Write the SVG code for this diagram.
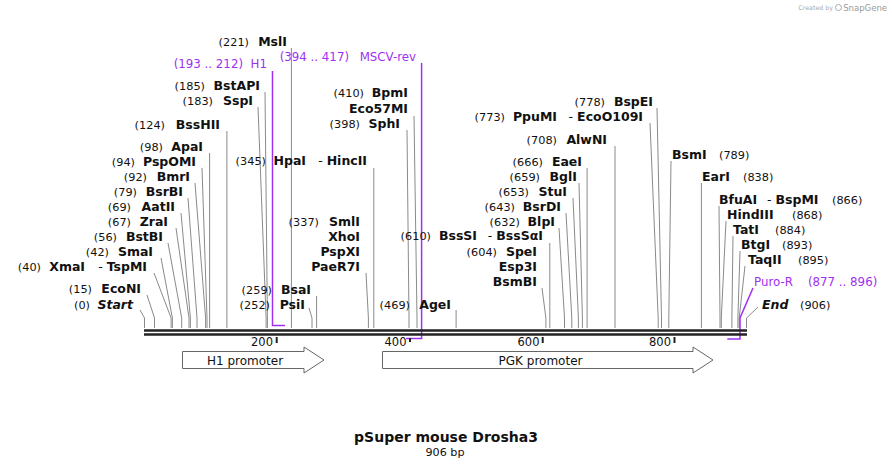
<svg xmlns="http://www.w3.org/2000/svg" width="892" height="468" viewBox="0 0 892 468">
<style>
text{font-family:"DejaVu Sans","Verdana",sans-serif;fill:#111}
.n{font-size:11.3px}
.e{font-size:12.5px;font-weight:bold}
.i{font-style:italic}
.h{font-weight:normal}
.f{font-size:11.8px;fill:#a030f0}
.sl{fill:none;stroke:#8a8a8a;stroke-width:1}
.pl{fill:none;stroke:#a030f0;stroke-width:1.5}
.bb{stroke:#222;stroke-width:2.6}
.tk{stroke:#222;stroke-width:2}
.tl{font-size:11.5px}
.ar{fill:#fff;stroke:#666;stroke-width:1}
.al{font-size:12px;text-anchor:middle}
.wm{font-size:6.3px;fill:#aaa}
</style>
<rect width="892" height="468" fill="#fff"/>

<g id="connectors">
<polyline class="sl" points="140,310 144.5,318 144.5,328"/>
<polyline class="sl" points="147,295 154.5,318 154.5,328"/>
<polyline class="sl" points="154,273 171.1,318 171.1,328"/>
<polyline class="sl" points="161,258 172.4,318 172.4,328"/>
<polyline class="sl" points="168,243 181.7,318 181.7,328"/>
<polyline class="sl" points="176,228 189,318 189,328"/>
<polyline class="sl" points="181,213 190.4,318 190.4,328"/>
<polyline class="sl" points="188,198 197,318 197,328"/>
<polyline class="sl" points="195,183 205.6,318 205.6,328"/>
<polyline class="sl" points="202,168 207,318 207,328"/>
<polyline class="sl" points="209.6,153 209.6,328"/>
<polyline class="sl" points="226.9,131 226.9,328"/>
<polyline class="sl" points="258,107 266.1,318 266.1,328"/>
<polyline class="sl" points="265,92 267.4,318 267.4,328"/>
<polyline class="sl" points="291.4,48 291.4,328"/>
<polyline class="sl" points="309,308 312,318 312,328"/>
<polyline class="sl" points="316.6,296 316.6,328"/>
<polyline class="sl" points="366,273 368.4,318 368.4,328"/>
<polyline class="sl" points="373.8,168 373.8,328"/>
<polyline class="sl" points="407,130 409,318 409,328"/>
<polyline class="sl" points="414,116 417,318 417,328"/>
<polyline class="sl" points="456.1,310 456.1,328"/>
<polyline class="sl" points="542,288 545.9,318 545.9,328"/>
<polyline class="sl" points="549.8,243 549.8,328"/>
<polyline class="sl" points="559,228 564.5,318 564.5,328"/>
<polyline class="sl" points="566,213 571.8,318 571.8,328"/>
<polyline class="sl" points="573,198 578.4,318 578.4,328"/>
<polyline class="sl" points="579,183 582.4,318 582.4,328"/>
<polyline class="sl" points="587.1,168 587.1,328"/>
<polyline class="sl" points="615,146 615,328"/>
<polyline class="sl" points="650,123 658.2,318 658.2,328"/>
<polyline class="sl" points="657,108 661.5,318 661.5,328"/>
<polyline class="sl" points="671,161 668.8,318 668.8,328"/>
<polyline class="sl" points="701.4,183 701.4,328"/>
<polyline class="sl" points="719,206 720,318 720,328"/>
<polyline class="sl" points="726,221 721.3,318 721.3,328"/>
<polyline class="sl" points="733,236 731.9,318 731.9,328"/>
<polyline class="sl" points="740,251 737.9,318 737.9,328"/>
<polyline class="sl" points="745,266 739.2,318 739.2,328"/>
<polyline class="sl" points="758,307 746.5,318 746.5,328"/>
<polyline class="pl" points="272.5,71 272.5,325.5 285,325.5"/>
<polyline class="pl" points="421.6,63 421.6,338.5 406,338.5"/>
<polyline class="pl" points="753,288 740,318 740,339 727.3,339"/>
</g>

<g id="backbone">
<line class="bb" x1="144" y1="330.5" x2="747" y2="330.5"/>
<line class="bb" x1="144" y1="334.5" x2="747" y2="334.5"/>
<line class="tk" x1="276.7" y1="337" x2="276.7" y2="343"/>
<line class="tk" x1="410" y1="338" x2="410" y2="342"/>
<line class="tk" x1="542.7" y1="337" x2="542.7" y2="343"/>
<line class="tk" x1="674.5" y1="337" x2="674.5" y2="343"/>
<text class="tl" x="273" y="346" text-anchor="end">200</text>
<text class="tl" x="406.5" y="346" text-anchor="end">400</text>
<text class="tl" x="539.5" y="346" text-anchor="end">600</text>
<text class="tl" x="671" y="346" text-anchor="end">800</text>
</g>

<g id="H1-promoter">
<path class="ar" d="M182.5,351.5 H304 V347 L324,360 L304,373 V368.5 H182.5 Z"/>
<text class="al" x="245" y="364.5">H1 promoter</text>
</g>
<g id="PGK-promoter">
<path class="ar" d="M382.5,351.5 H693 V347 L713,360 L693,373 V368.5 H382.5 Z"/>
<text class="al" x="540.5" y="364.5">PGK promoter</text>
</g>

<g id="site-Start"><text class="n" x="90" y="309" text-anchor="end">(0)</text><text class="e i" x="133" y="309" text-anchor="end">Start</text></g>
<g id="site-EcoNI"><text class="n" x="92" y="293" text-anchor="end">(15)</text><text class="e" x="141" y="293" text-anchor="end">EcoNI</text></g>
<g id="site-XmaI"><text class="n" x="41" y="271" text-anchor="end">(40)</text><text class="e" x="85" y="271" text-anchor="end">XmaI</text><text class="e" x="147" y="271" text-anchor="end"><tspan class="h">- </tspan>TspMI</text></g>
<g id="site-SmaI"><text class="n" x="109" y="256" text-anchor="end">(42)</text><text class="e" x="153" y="256" text-anchor="end">SmaI</text></g>
<g id="site-BstBI"><text class="n" x="117" y="241" text-anchor="end">(56)</text><text class="e" x="163" y="241" text-anchor="end">BstBI</text></g>
<g id="site-ZraI"><text class="n" x="131" y="226" text-anchor="end">(67)</text><text class="e" x="168" y="226" text-anchor="end">ZraI</text></g>
<g id="site-AatII"><text class="n" x="131" y="211" text-anchor="end">(69)</text><text class="e" x="175" y="211" text-anchor="end">AatII</text></g>
<g id="site-BsrBI"><text class="n" x="137" y="196" text-anchor="end">(79)</text><text class="e" x="183" y="196" text-anchor="end">BsrBI</text></g>
<g id="site-BmrI"><text class="n" x="147" y="181" text-anchor="end">(92)</text><text class="e" x="190" y="181" text-anchor="end">BmrI</text></g>
<g id="site-PspOMI"><text class="n" x="135" y="166" text-anchor="end">(94)</text><text class="e" x="196" y="166" text-anchor="end">PspOMI</text></g>
<g id="site-ApaI"><text class="n" x="163" y="151" text-anchor="end">(98)</text><text class="e" x="203" y="151" text-anchor="end">ApaI</text></g>
<g id="site-BssHII"><text class="n" x="165" y="129" text-anchor="end">(124)</text><text class="e" x="220" y="129" text-anchor="end">BssHII</text></g>
<g id="site-SspI"><text class="n" x="213" y="105" text-anchor="end">(183)</text><text class="e" x="253" y="105" text-anchor="end">SspI</text></g>
<g id="site-BstAPI"><text class="n" x="205" y="90" text-anchor="end">(185)</text><text class="e" x="260" y="90" text-anchor="end">BstAPI</text></g>
<g id="feature-H1"><text class="f" x="243" y="68" text-anchor="end">(193 .. 212)</text><text class="f" x="267" y="68" text-anchor="end">H1</text></g>
<g id="site-MslI"><text class="n" x="249" y="46" text-anchor="end">(221)</text><text class="e" x="287" y="46" text-anchor="end">MslI</text></g>
<g id="site-PsiI"><text class="n" x="270" y="309" text-anchor="end">(252)</text><text class="e" x="305" y="309" text-anchor="end">PsiI</text></g>
<g id="site-BsaI"><text class="n" x="272" y="294" text-anchor="end">(259)</text><text class="e" x="311" y="294" text-anchor="end">BsaI</text></g>
<g id="site-SmlI"><text class="n" x="319" y="226" text-anchor="end">(337)</text><text class="e" x="360" y="226" text-anchor="end">SmlI</text><text class="e" x="360" y="241" text-anchor="end">XhoI</text><text class="e" x="360" y="256" text-anchor="end">PspXI</text><text class="e" x="360" y="271" text-anchor="end">PaeR7I</text></g>
<g id="site-HpaI"><text class="n" x="266" y="165" text-anchor="end">(345)</text><text class="e" x="306" y="165" text-anchor="end">HpaI</text><text class="e" x="367" y="165" text-anchor="end"><tspan class="h">- </tspan>HincII</text></g>
<g id="feature-MSCV-rev"><text class="f" x="349" y="61" text-anchor="end">(394 .. 417)</text><text class="f" x="416" y="61" text-anchor="end">MSCV-rev</text></g>
<g id="site-SphI"><text class="n" x="360" y="128" text-anchor="end">(398)</text><text class="e" x="400" y="128" text-anchor="end">SphI</text></g>
<g id="site-BpmI"><text class="n" x="364" y="97" text-anchor="end">(410)</text><text class="e" x="408" y="97" text-anchor="end">BpmI</text><text class="e" x="408" y="113" text-anchor="end">Eco57MI</text></g>
<g id="site-AgeI"><text class="n" x="410" y="309" text-anchor="end">(469)</text><text class="e" x="451" y="309" text-anchor="end">AgeI</text></g>
<g id="site-SpeI"><text class="n" x="497" y="256" text-anchor="end">(604)</text><text class="e" x="537" y="256" text-anchor="end">SpeI</text><text class="e" x="537" y="271" text-anchor="end">Esp3I</text><text class="e" x="537" y="286" text-anchor="end">BsmBI</text></g>
<g id="site-BssSI"><text class="n" x="431" y="240" text-anchor="end">(610)</text><text class="e" x="477" y="240" text-anchor="end">BssSI</text><text class="e" x="543" y="240" text-anchor="end"><tspan class="h">- </tspan>BssSαI</text></g>
<g id="site-BlpI"><text class="n" x="520" y="226" text-anchor="end">(632)</text><text class="e" x="555" y="226" text-anchor="end">BlpI</text></g>
<g id="site-BsrDI"><text class="n" x="515" y="211" text-anchor="end">(643)</text><text class="e" x="561" y="211" text-anchor="end">BsrDI</text></g>
<g id="site-StuI"><text class="n" x="529" y="196" text-anchor="end">(653)</text><text class="e" x="567" y="196" text-anchor="end">StuI</text></g>
<g id="site-BglI"><text class="n" x="540" y="181" text-anchor="end">(659)</text><text class="e" x="577" y="181" text-anchor="end">BglI</text></g>
<g id="site-EaeI"><text class="n" x="543" y="166" text-anchor="end">(666)</text><text class="e" x="582" y="166" text-anchor="end">EaeI</text></g>
<g id="site-AlwNI"><text class="n" x="557" y="144" text-anchor="end">(708)</text><text class="e" x="607" y="144" text-anchor="end">AlwNI</text></g>
<g id="site-PpuMI"><text class="n" x="505" y="121" text-anchor="end">(773)</text><text class="e" x="557" y="121" text-anchor="end">PpuMI</text><text class="e" x="643" y="121" text-anchor="end"><tspan class="h">- </tspan>EcoO109I</text></g>
<g id="site-BspEI"><text class="n" x="605" y="106" text-anchor="end">(778)</text><text class="e" x="653" y="106" text-anchor="end">BspEI</text></g>
<g id="site-BsmI"><text class="e" x="672" y="159">BsmI</text><text class="n" x="719" y="159">(789)</text></g>
<g id="site-EarI"><text class="e" x="702" y="181">EarI</text><text class="n" x="743" y="181">(838)</text></g>
<g id="site-BfuAI"><text class="e" x="719" y="204">BfuAI</text><text class="e" x="767" y="204"><tspan class="h">- </tspan>BspMI</text><text class="n" x="832" y="204">(866)</text></g>
<g id="site-HindIII"><text class="e" x="727" y="219">HindIII</text><text class="n" x="792" y="219">(868)</text></g>
<g id="site-TatI"><text class="e" x="733" y="234">TatI</text><text class="n" x="775" y="234">(884)</text></g>
<g id="site-BtgI"><text class="e" x="741" y="249">BtgI</text><text class="n" x="782" y="249">(893)</text></g>
<g id="site-TaqII"><text class="e" x="748" y="264">TaqII</text><text class="n" x="798" y="264">(895)</text></g>
<g id="feature-Puro-R"><text class="f" x="754" y="286">Puro-R</text><text class="f" x="808" y="286">(877 .. 896)</text></g>
<g id="site-End"><text class="e i" x="762" y="309">End</text><text class="n" x="800" y="309">(906)</text></g>

<g id="title">
<text x="446" y="442" text-anchor="middle" style="font-size:14px;font-weight:bold">pSuper mouse Drosha3</text>
<text x="445" y="456" text-anchor="middle" style="font-size:11.2px">906 bp</text>
</g>

<g id="watermark">
<text class="wm" x="833" y="10" text-anchor="end">Created by</text>
<circle cx="838.5" cy="7.5" r="3" fill="none" stroke="#aaa" stroke-width="1"/>
<text x="887" y="11" text-anchor="end" style="font-size:8.5px;fill:#999">SnapGene</text>
</g>
</svg>
